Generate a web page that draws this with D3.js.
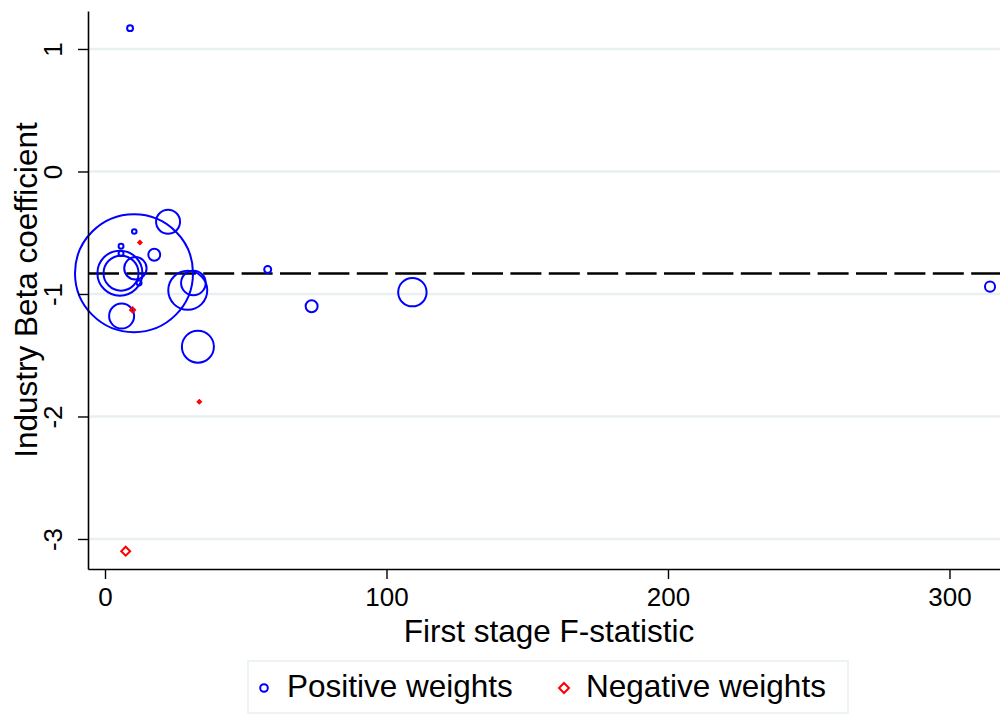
<!DOCTYPE html>
<html><head><meta charset="utf-8">
<script src="https://cdn.jsdelivr.net/npm/d3@7"></script>
<style>
body{margin:0;background:#fff}
svg{display:block}
text{font-family:"Liberation Sans",Arial,Helvetica,sans-serif;fill:#000}
</style>
</head><body>
<svg id="chart" width="1000" height="716"></svg>
<script>
// ---- data ----
// positive-weight estimates
const posF    = [8.9, 10.3, 22.4, 10.4, 5.7, 5.7, 17.5, 5.3, 5.7, 10.8, 12.1, 29.4, 31.4, 5.9, 33.0, 57.8, 73.4, 109.2, 314.4];
const posBeta = [1.17, -0.83, -0.41, -0.49, -0.61, -0.67, -0.68, -0.83, -0.83, -0.79, -0.91, -0.97, -0.91, -1.18, -1.43, -0.80, -1.10, -0.985, -0.94];
const posW    = [0.10, 40.0, 1.65, 0.06, 0.07, 0.07, 0.41, 5.82, 3.52, 1.44, 0.07, 4.37, 1.74, 1.80, 2.94, 0.14, 0.41, 2.32, 0.29];
// negative-weight estimates (absolute weight)
const negF    = [7.35, 12.4, 9.8, 33.5];
const negBeta = [-3.10, -0.58, -1.13, -1.88];
const negW    = [0.23, 0.03, 0.07, 0.03];
const meanBeta = -0.833;
const xTicks = [0, 100, 200, 300];
const yTicks = [-3, -2, -1, 0, 1];
const xTitle = "First stage F-statistic";
const yTitle = "Industry Beta coefficient";
const legendLabels = ["Positive weights", "Negative weights"];

// ---- layout ----
const L = 88, R = 1010, T = 11, B = 569;
const svg = d3.select("#chart");
const x = d3.scaleLinear().domain([-6.04, 321.5]).range([L, R]);
const y = d3.scaleLinear().domain([-3.245, 1.31]).range([B, T]);
const rScale = d3.scaleSqrt().domain([0, 40]).range([0, 59]);
const BLUE = "#0000ff", RED = "#ff0000";
const BIG = 31.5, TICK = 26;

// gridlines
svg.append("g").selectAll("line").data(yTicks).join("line")
  .attr("x1", L).attr("x2", R)
  .attr("y1", d => y(d)).attr("y2", d => y(d))
  .attr("stroke", "#e8f0f2").attr("stroke-width", 2.5);

// mean dashed line
svg.append("line")
  .attr("x1", L).attr("x2", R)
  .attr("y1", y(meanBeta)).attr("y2", y(meanBeta))
  .attr("stroke", "#000").attr("stroke-width", 2.4)
  .attr("stroke-dasharray", "31,7.4");

// positive markers
const pos = posF.map((f, i) => ({f, b: posBeta[i], w: posW[i]}));
svg.append("g").selectAll("circle").data(pos).join("circle")
  .attr("cx", d => x(d.f)).attr("cy", d => y(d.b))
  .attr("r", d => rScale(d.w))
  .attr("fill", "none").attr("stroke", BLUE).attr("stroke-width", 2);

// negative markers (diamonds)
const neg = negF.map((f, i) => ({f, b: negBeta[i], w: negW[i]}));
svg.append("g").selectAll("path").data(neg).join("path")
  .attr("transform", d => `translate(${x(d.f)},${y(d.b)}) rotate(45)`)
  .attr("d", d => { const h = rScale(d.w); return d3.symbol().type(d3.symbolSquare).size(2 * h * h)(); })
  .attr("fill", "none").attr("stroke", RED).attr("stroke-width", 2);

// x axis
const xAxis = svg.append("g").attr("transform", `translate(0,${B})`)
  .call(d3.axisBottom(x).tickValues(xTicks).tickSize(10).tickSizeOuter(0).tickPadding(9).tickFormat(d => String(d)));
xAxis.select(".domain").attr("stroke", "#000").attr("stroke-width", 1.6);
xAxis.selectAll(".tick line").attr("stroke", "#000").attr("stroke-width", 1.4);
xAxis.selectAll(".tick text").attr("font-size", TICK).attr("font-family", "Liberation Sans, Arial, sans-serif").attr("fill", "#000");

// y axis
const yAxis = svg.append("g").attr("transform", `translate(${L},0)`)
  .call(d3.axisLeft(y).tickValues(yTicks).tickSize(10).tickSizeOuter(0).tickFormat(d => String(d)));
yAxis.select(".domain").attr("stroke", "#000").attr("stroke-width", 1.6);
yAxis.selectAll(".tick line").attr("stroke", "#000").attr("stroke-width", 1.4);
yAxis.selectAll(".tick text")
  .attr("x", 0).attr("y", 0).attr("dy", 0)
  .attr("text-anchor", "middle")
  .attr("transform", "translate(-26,0) rotate(-90)")
  .attr("font-size", TICK).attr("font-family", "Liberation Sans, Arial, sans-serif").attr("fill", "#000");

// axis titles
svg.append("text").attr("x", (L + R) / 2).attr("y", 641.5)
  .attr("text-anchor", "middle").attr("font-size", BIG).text(xTitle);
svg.append("text").attr("transform", `translate(37,${(T + B) / 2}) rotate(-90)`)
  .attr("text-anchor", "middle").attr("font-size", BIG).text(yTitle);

// legend
const lg = svg.append("g");
lg.append("rect").attr("x", 248).attr("y", 661).attr("width", 600).attr("height", 52)
  .attr("fill", "none").attr("stroke", "#e3ecee").attr("stroke-width", 1.2);
lg.append("circle").attr("cx", 264).attr("cy", 688).attr("r", 3.8)
  .attr("fill", "none").attr("stroke", BLUE).attr("stroke-width", 2);
lg.append("text").attr("x", 287).attr("y", 697).attr("font-size", BIG).text(legendLabels[0]);
lg.append("path").attr("transform", "translate(564,688) rotate(45)")
  .attr("d", d3.symbol().type(d3.symbolSquare).size(2 * 5 * 5)())
  .attr("fill", "none").attr("stroke", RED).attr("stroke-width", 2);
lg.append("text").attr("x", 586).attr("y", 697).attr("font-size", BIG).text(legendLabels[1]);
</script>
</body></html>
